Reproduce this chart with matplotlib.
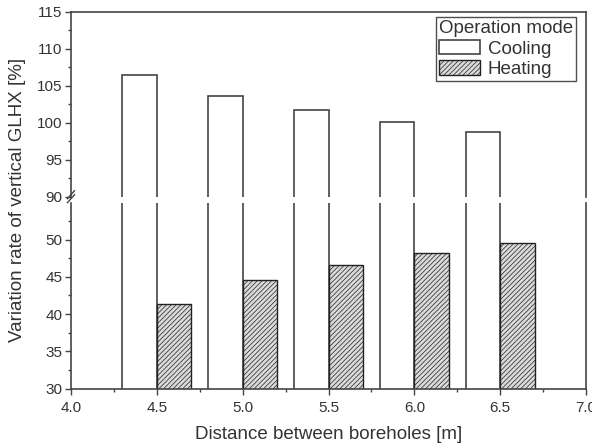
import matplotlib.pyplot as plt
from matplotlib.ticker import MultipleLocator
from matplotlib.lines import Line2D

plt.rcParams["font.family"] = ["Liberation Sans", "DejaVu Sans"]
plt.rcParams["hatch.linewidth"] = 0.5
plt.rcParams["hatch.color"] = "#555555"

distance = [4.5, 5.0, 5.5, 6.0, 6.5]
cooling = [106.4, 103.65, 101.7, 100.1, 98.8]
heating = [41.4, 44.55, 46.6, 48.2, 49.55]

width = 0.2
gray = "#444444"

fig = plt.figure(figsize=(5.92, 4.43), dpi=100)
ax_top = fig.add_axes([0.1199, 0.556, 0.870, 0.4176])
ax_bot = fig.add_axes([0.1199, 0.1226, 0.870, 0.4192])

for ax in (ax_top, ax_bot):
    ax.bar([d - width for d in distance], cooling, width=width, align="edge",
           facecolor="white", edgecolor=gray, linewidth=1.2, label="Cooling")
    ax.bar(distance, heating, width=width, align="edge",
           facecolor="#dadada", edgecolor="#222222", linewidth=1.0,
           hatch="///////", label="Heating")
    ax.set_xlim(4.0, 7.0)
    ax.yaxis.set_major_locator(MultipleLocator(5))
    ax.yaxis.set_minor_locator(MultipleLocator(2.5))
    ax.xaxis.set_major_locator(MultipleLocator(0.5))
    ax.xaxis.set_minor_locator(MultipleLocator(0.25))
    ax.tick_params(which="both", direction="out", colors=gray, labelcolor="#333333",
                   labelsize=11, top=False, right=False, pad=2)
    ax.tick_params(which="major", length=4, width=1)
    ax.tick_params(which="minor", length=2.5, width=1)
    ax.tick_params(axis="x", pad=5)
    for s in ax.spines.values():
        s.set_color(gray)
        s.set_linewidth(1.2)

ax_top.set_ylim(90, 115)
ax_top.spines["bottom"].set_visible(False)
ax_top.tick_params(axis="x", which="both", bottom=False, labelbottom=False)

ax_bot.set_ylim(30, 54.9)
ax_bot.spines["top"].set_visible(False)
ax_bot.set_yticks([30, 35, 40, 45, 50])
ax_bot.xaxis.set_major_formatter(plt.FormatStrFormatter("%.1f"))

# axis break marks on the left spine
x0 = 0.1199
for dy in (0.5605, 0.5515):
    fig.add_artist(Line2D([x0 - 0.006, x0 + 0.006], [dy - 0.009, dy + 0.009],
                          color=gray, lw=1.0, transform=fig.transFigure))

leg = ax_top.legend(loc="upper right", title="Operation mode", fontsize=13.5,
                    title_fontsize=13.5, frameon=True, fancybox=False,
                    borderpad=0.15, handlelength=2.2, handleheight=0.8,
                    handletextpad=0.4, labelspacing=0.15, borderaxespad=0.2,
                    bbox_to_anchor=(0.988, 0.99))
leg.get_frame().set_edgecolor("#222222")
leg.get_frame().set_linewidth(1.0)
leg._legend_box.align = "left"
leg.get_title().set_color("#333333")
for t in leg.get_texts():
    t.set_color("#333333")

fig.text(0.03, 0.549, "Variation rate of vertical GLHX [%]", rotation=90,
         ha="center", va="center", fontsize=13.5, color="#333333")
fig.text(0.555, 0.02, "Distance between boreholes [m]", ha="center",
         va="center", fontsize=13.5, color="#333333")

plt.savefig("out.png", dpi=100)
